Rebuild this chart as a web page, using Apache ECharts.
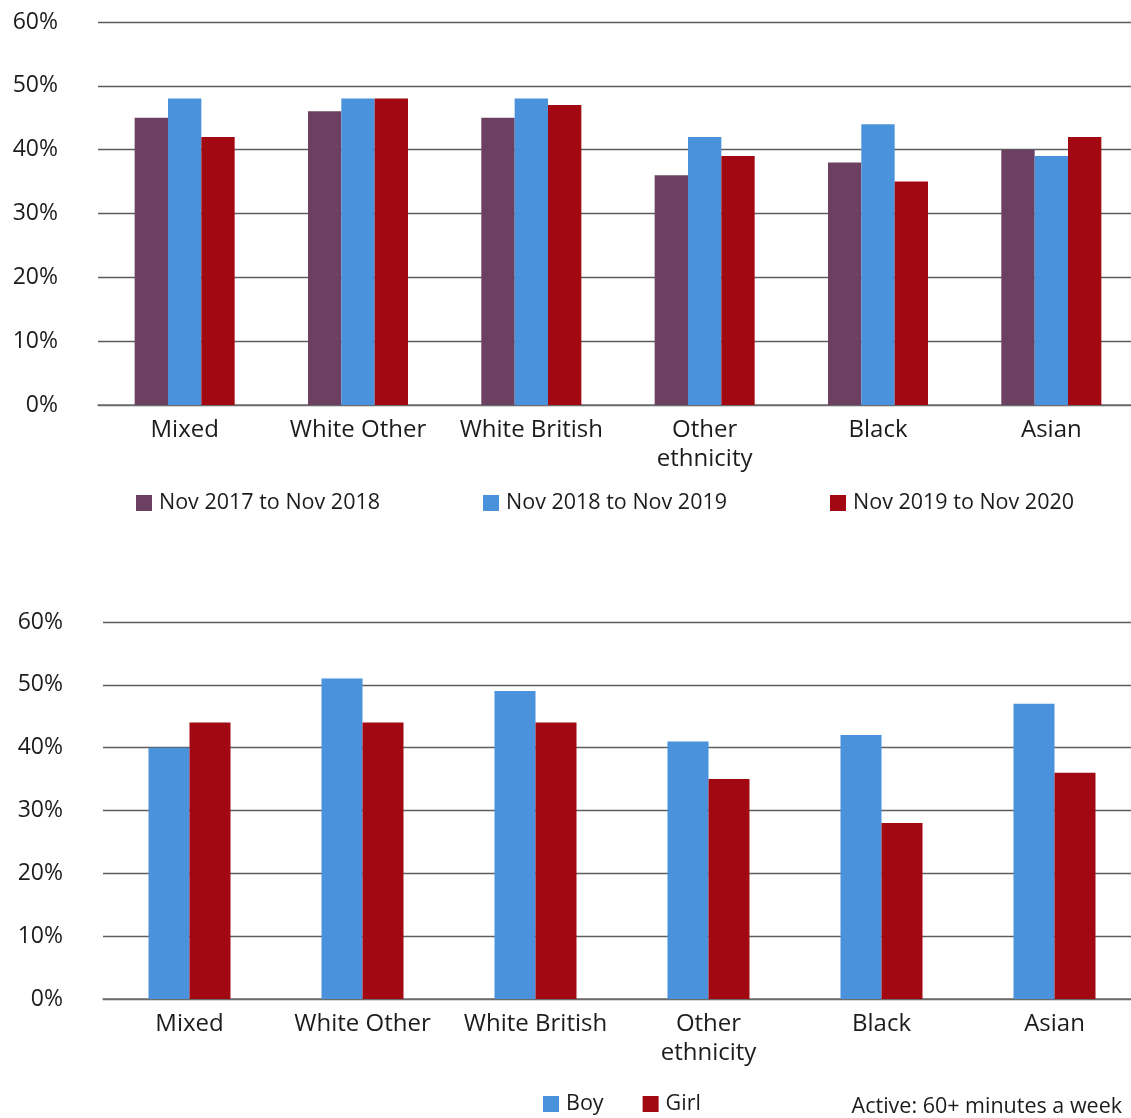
<!DOCTYPE html>
<html>
<head>
<meta charset="utf-8">
<script src="https://cdn.jsdelivr.net/npm/echarts@6/dist/echarts.min.js"></script>
<style>
html,body{margin:0;padding:0;background:#fff;overflow:hidden;}
#chart{width:1131px;height:1118px;}
</style>
</head>
<body>
<div id="chart"></div>
<script>
const categories = ['Mixed', 'White Other', 'White British', 'Other\nethnicity', 'Black', 'Asian'];
const yTicks = [0, 10, 20, 30, 40, 50, 60];

const period1 = [45, 46, 45, 36, 38, 40]; // Nov 2017 to Nov 2018
const period2 = [48, 48, 48, 42, 44, 39]; // Nov 2018 to Nov 2019
const period3 = [42, 48, 47, 39, 35, 42]; // Nov 2019 to Nov 2020

const boy  = [40, 51, 49, 41, 42, 47];
const girl = [44, 44, 44, 35, 28, 36];

const periodNames = ['Nov 2017 to Nov 2018', 'Nov 2018 to Nov 2019', 'Nov 2019 to Nov 2020'];
const genderNames = ['Boy', 'Girl'];
const noteText = 'Active: 60+ minutes a week';

const PURPLE = '#6C4060', BLUE = '#4A92DC', RED = '#A20812';
const FONT = '"Open Sans", "Noto Sans", sans-serif';
const TXT = '#1c1c1c';

function yAxis(gi) {
  return {
    type: 'value', gridIndex: gi,
    min: yTicks[0], max: yTicks[yTicks.length - 1], interval: 10,
    axisLine: {show: false}, axisTick: {show: false},
    axisLabel: {formatter: '{value}%', color: TXT, fontSize: 23, fontFamily: FONT, margin: 40},
    splitLine: {lineStyle: {color: '#5e5e5e', width: 1.3}}
  };
}
function xAxis(gi) {
  return {
    type: 'category', gridIndex: gi, data: categories,
    axisLine: {lineStyle: {color: '#707070', width: 1.5}},
    axisTick: {show: false},
    axisLabel: {color: TXT, fontSize: 24, fontFamily: FONT, margin: 11, lineHeight: 29, interval: 0}
  };
}

const chart = echarts.init(document.getElementById('chart'));
chart.setOption({
  animation: false,
  backgroundColor: '#fff',
  grid: [
    {left: 98, width: 1040, top: 22, height: 383, containLabel: false, outerBoundsMode: 'none'},
    {left: 103, width: 1038, top: 622, height: 377, containLabel: false, outerBoundsMode: 'none'}
  ],
  xAxis: [xAxis(0), xAxis(1)],
  yAxis: [yAxis(0), yAxis(1)],
  legend: [
    {
      data: periodNames, left: 136, top: 492, padding: 0, itemWidth: 16, itemHeight: 16, itemGap: 103,
      icon: 'rect', textStyle: {color: TXT, fontSize: 21.5, fontFamily: FONT, padding: [0, 0, 0, 2]}
    },
    {
      data: genderNames, left: 543, top: 1093, padding: 0, itemWidth: 16, itemHeight: 16, itemGap: 39,
      icon: 'rect', textStyle: {color: TXT, fontSize: 21.5, fontFamily: FONT, padding: [0, 0, 0, 2]}
    }
  ],
  graphic: [{
    type: 'text', right: 9, top: 1096,
    style: {text: noteText, fill: TXT, fontSize: 21.5, fontFamily: FONT}
  }],
  series: [
    {name: periodNames[0], type: 'bar', xAxisIndex: 0, yAxisIndex: 0, data: period1, itemStyle: {color: PURPLE}, barGap: '0%', barCategoryGap: '42.3%'},
    {name: periodNames[1], type: 'bar', xAxisIndex: 0, yAxisIndex: 0, data: period2, itemStyle: {color: BLUE}, barGap: '0%', barCategoryGap: '42.3%'},
    {name: periodNames[2], type: 'bar', xAxisIndex: 0, yAxisIndex: 0, data: period3, itemStyle: {color: RED}, barGap: '0%', barCategoryGap: '42.3%'},
    {name: genderNames[0], type: 'bar', xAxisIndex: 1, yAxisIndex: 1, data: boy, itemStyle: {color: BLUE}, barGap: '0%', barCategoryGap: '52.6%'},
    {name: genderNames[1], type: 'bar', xAxisIndex: 1, yAxisIndex: 1, data: girl, itemStyle: {color: RED}, barGap: '0%', barCategoryGap: '52.6%'}
  ]
});
</script>
</body>
</html>
